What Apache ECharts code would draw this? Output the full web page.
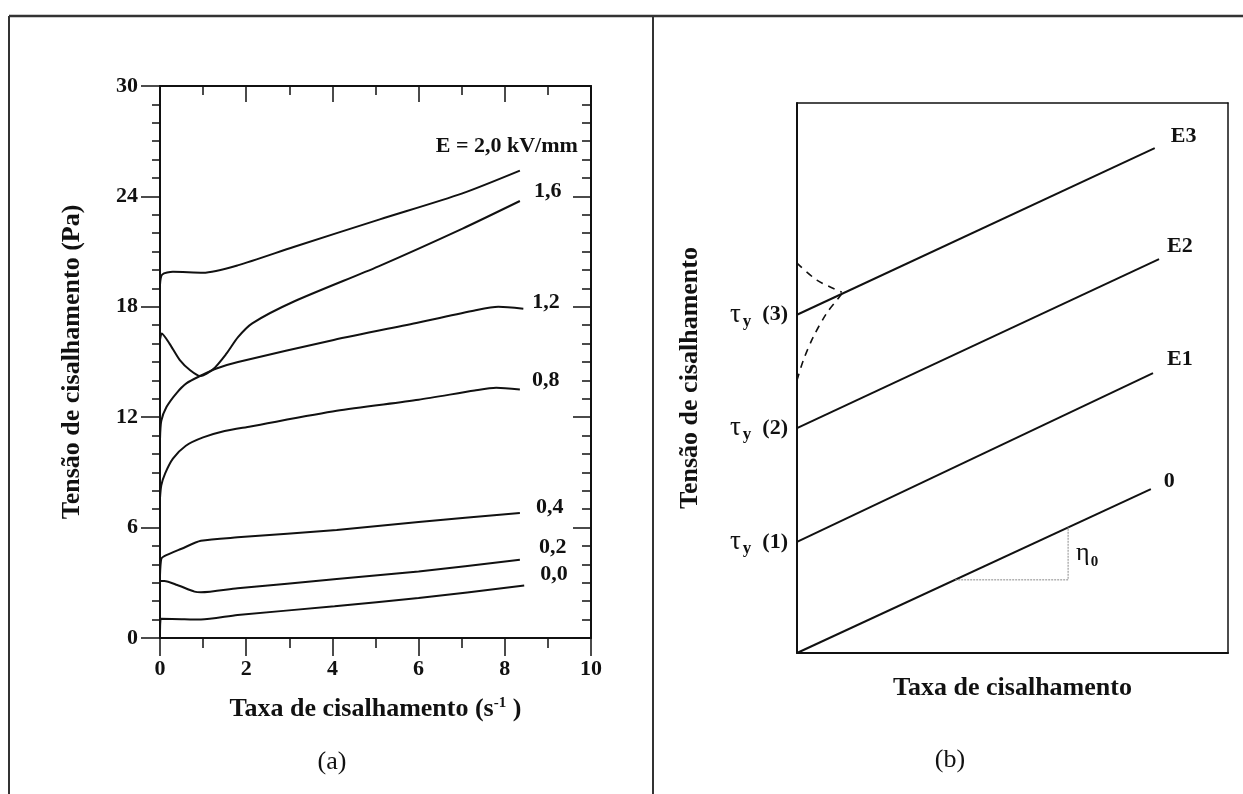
<!DOCTYPE html>
<html>
<head>
<meta charset="utf-8">
<script src="https://cdn.jsdelivr.net/npm/echarts@6/dist/echarts.min.js"></script>
<style>
  html, body { margin: 0; padding: 0; background: #fff; }
  #chart { width: 1243px; height: 794px; }
</style>
</head>
<body>
<div id="chart"></div>
<script>
// ---- Panel (a): shear stress vs shear rate for several electric field strengths ----
const curveE20 = [[0, 19.2], [0.05, 19.75], [0.3, 19.9], [1.0, 19.85], [1.8, 20.25], [3.1, 21.25], [5.1, 22.75], [7.0, 24.15], [8.35, 25.4]];
const curveE16 = [[0, 16.2], [0.04, 16.55], [0.22, 16.0], [0.46, 15.1], [0.7, 14.55], [0.93, 14.24], [1.23, 14.6], [1.54, 15.45], [1.81, 16.35], [2.14, 17.1], [3.12, 18.3], [5.07, 20.2], [7.02, 22.25], [8.35, 23.75]];
const curveE12 = [[0, 10.8], [0.03, 11.8], [0.15, 12.55], [0.38, 13.3], [0.62, 13.85], [0.93, 14.24], [1.31, 14.65], [1.81, 15.0], [4.03, 16.2], [6.0, 17.15], [7.3, 17.8], [7.85, 18.0], [8.43, 17.9]];
const curveE08 = [[0, 7.6], [0.03, 8.3], [0.12, 8.95], [0.3, 9.75], [0.6, 10.45], [1.0, 10.9], [1.5, 11.25], [2.1, 11.5], [4.1, 12.35], [6.0, 12.95], [7.3, 13.45], [7.8, 13.6], [8.35, 13.5]];
const curveE04 = [[0, 3.4], [0.03, 4.3], [0.1, 4.45], [0.5, 4.85], [0.95, 5.28], [1.8, 5.47], [4.1, 5.87], [6.0, 6.3], [8.35, 6.8]];
const curveE02 = [[0, 3.1], [0.1, 3.1], [0.4, 2.88], [0.8, 2.52], [0.95, 2.48], [1.8, 2.7], [4.1, 3.2], [6.0, 3.62], [8.35, 4.25]];
const curveE00 = [[0, 0.2], [0.02, 1.05], [0.5, 1.02], [0.95, 1.0], [1.8, 1.25], [4.05, 1.72], [6.0, 2.17], [8.45, 2.85]];
const fieldLabels = ['E = 2,0 kV/mm', '1,6', '1,2', '0,8', '0,4', '0,2', '0,0'];

// ---- Panel (b): Bingham-type schematic ----
const lineE3 = [[0, 6.15], [8.3, 9.18]];
const lineE2 = [[0, 4.09], [8.4, 7.16]];
const lineE1 = [[0, 2.02], [8.26, 5.09]];
const lineE0 = [[0, 0], [8.21, 2.98]];
const schematicLabels = ['E3', 'E2', 'E1', '0'];
const yieldLabels = ['(3)', '(2)', '(1)'];
const dashUpper = [[0, 7.09], [0.46, 6.78], [1.04, 6.56]];
const dashLower = [[0, 4.96], [0.15, 5.33], [0.38, 5.75], [0.69, 6.18], [0.96, 6.45], [1.04, 6.53]];
const slopeGuide = [[3.67, 1.33], [6.29, 1.33], [6.29, 1.81], [6.29, 2.29]];

const FONT = "'Liberation Serif','Times New Roman',serif";
const INK = '#111';

const chart = echarts.init(document.getElementById('chart'), null, { renderer: 'canvas' });

function curveSeries(data, text, dx, dy, align) {
  return {
    type: 'line', xAxisIndex: 0, yAxisIndex: 0,
    data: data, showSymbol: false, symbol: 'none',
    smooth: 0.25,
    lineStyle: { color: INK, width: 2 },
    silent: true, animation: false,
    endLabel: {
      show: true, formatter: text, distance: 0, offset: [dx, dy],
      align: align || 'left', verticalAlign: 'middle',
      fontFamily: FONT, fontWeight: 'bold', fontSize: 22, color: INK
    }
  };
}

// invisible point markers keep per-point labels visible
const hiddenMark = { symbol: 'circle', symbolSize: 0, showSymbol: true };

function schematicSeries(data, text, dx, dy, tauIndex) {
  const pts = data.map((p, i) => {
    if (i === 0 && tauIndex !== null) {
      return {
        value: p,
        label: {
          show: true, position: 'left', distance: 9,
          formatter: '{t|τ}{s|y}{n|  ' + yieldLabels[tauIndex] + '}',
          rich: {
            t: { fontFamily: FONT, fontSize: 27, color: INK },
            s: { fontFamily: FONT, fontSize: 17, fontWeight: 'bold', color: INK, verticalAlign: 'bottom', padding: [14, 0, 0, 2] },
            n: { fontFamily: FONT, fontSize: 22, fontWeight: 'bold', color: INK }
          }
        }
      };
    }
    return { value: p };
  });
  return Object.assign({
    type: 'line', xAxisIndex: 2, yAxisIndex: 2,
    data: pts,
    lineStyle: { color: INK, width: 2 },
    silent: true, animation: false,
    endLabel: {
      show: true, formatter: text, distance: 0, offset: [dx, dy],
      align: 'left', verticalAlign: 'middle',
      fontFamily: FONT, fontWeight: 'bold', fontSize: 22, color: INK
    }
  }, hiddenMark);
}

const boldTick = { fontFamily: FONT, fontWeight: 'bold', fontSize: 22, color: INK };
const frameLine = { onZero: false, lineStyle: { color: INK, width: 2 } };
const thinFrame = { onZero: false, lineStyle: { color: INK, width: 1.5 } };

const option = {
  backgroundColor: '#fff',
  animation: false,
  grid: [
    { left: 160, top: 86, width: 431, height: 552 },
    { left: 797, top: 103, width: 431, height: 550 }
  ],
  xAxis: [
    {
      gridIndex: 0, type: 'value', position: 'bottom', min: 0, max: 10, interval: 2,
      axisLine: frameLine,
      axisTick: { inside: false, length: 18, lineStyle: { color: INK, width: 1.5 } },
      minorTick: { show: true, splitNumber: 2, length: 10, lineStyle: { color: INK, width: 1.5 } },
      splitLine: { show: false },
      axisLabel: Object.assign({ margin: 20 }, boldTick),
      name: '{b|Taxa de cisalhamento (s}{sup|-1}{b| )}',
      nameLocation: 'middle', nameGap: 58,
      nameTextStyle: {
        rich: {
          b: { fontFamily: FONT, fontWeight: 'bold', fontSize: 26, color: INK },
          sup: { fontFamily: FONT, fontWeight: 'bold', fontSize: 15, color: INK, verticalAlign: 'top', padding: [0, 0, 12, 0] }
        }
      }
    },
    {
      gridIndex: 0, type: 'value', position: 'top', min: 0, max: 10, interval: 2,
      axisLine: frameLine,
      axisTick: { inside: true, length: 16, lineStyle: { color: INK, width: 1.5 } },
      minorTick: { show: true, splitNumber: 2, length: 9, lineStyle: { color: INK, width: 1.5 } },
      splitLine: { show: false }, axisLabel: { show: false }
    },
    {
      gridIndex: 1, type: 'value', position: 'bottom', min: 0, max: 10,
      axisLine: frameLine,
      axisTick: { show: false }, splitLine: { show: false }, axisLabel: { show: false },
      name: 'Taxa de cisalhamento', nameLocation: 'middle', nameGap: 22,
      nameTextStyle: { fontFamily: FONT, fontWeight: 'bold', fontSize: 26, color: INK }
    },
    {
      gridIndex: 1, type: 'value', position: 'top', min: 0, max: 10,
      axisLine: thinFrame,
      axisTick: { show: false }, splitLine: { show: false }, axisLabel: { show: false }
    }
  ],
  yAxis: [
    {
      gridIndex: 0, type: 'value', position: 'left', min: 0, max: 30, interval: 6,
      axisLine: frameLine,
      axisTick: { inside: false, length: 19, lineStyle: { color: INK, width: 1.5 } },
      minorTick: { show: true, splitNumber: 6, length: 8, lineStyle: { color: INK, width: 1.5 } },
      splitLine: { show: false },
      axisLabel: Object.assign({ margin: 22 }, boldTick),
      name: 'Tensão de cisalhamento (Pa)', nameLocation: 'middle', nameGap: 75,
      nameTextStyle: { fontFamily: FONT, fontWeight: 'bold', fontSize: 26, color: INK }
    },
    {
      gridIndex: 0, type: 'value', position: 'right', min: 0, max: 30, interval: 6,
      axisLine: frameLine,
      axisTick: { inside: true, length: 18, lineStyle: { color: INK, width: 1.5 } },
      minorTick: { show: true, splitNumber: 6, length: 9, lineStyle: { color: INK, width: 1.5 } },
      splitLine: { show: false }, axisLabel: { show: false }
    },
    {
      gridIndex: 1, type: 'value', position: 'left', min: 0, max: 10,
      axisLine: frameLine,
      axisTick: { show: false }, splitLine: { show: false }, axisLabel: { show: false },
      name: 'Tensão de cisalhamento', nameLocation: 'middle', nameGap: 94,
      nameTextStyle: { fontFamily: FONT, fontWeight: 'bold', fontSize: 26, color: INK }
    },
    {
      gridIndex: 1, type: 'value', position: 'right', min: 0, max: 10,
      axisLine: thinFrame,
      axisTick: { show: false }, splitLine: { show: false }, axisLabel: { show: false }
    }
  ],
  series: [
    curveSeries(curveE20, fieldLabels[0], 58, -24, 'right'),
    curveSeries(curveE16, fieldLabels[1], 14, -10),
    curveSeries(curveE12, fieldLabels[2], 9, -6),
    curveSeries(curveE08, fieldLabels[3], 12, -9),
    curveSeries(curveE04, fieldLabels[4], 16, -6),
    curveSeries(curveE02, fieldLabels[5], 19, -12),
    curveSeries(curveE00, fieldLabels[6], 16, -11),

    schematicSeries(lineE3, schematicLabels[0], 16, -12, 0),
    schematicSeries(lineE2, schematicLabels[1], 8, -13, 1),
    schematicSeries(lineE1, schematicLabels[2], 14, -14, 2),
    schematicSeries(lineE0, schematicLabels[3], 13, -8, null),
    {
      type: 'line', xAxisIndex: 2, yAxisIndex: 2, data: dashUpper,
      showSymbol: false, symbol: 'none', smooth: 0.3, silent: true,
      lineStyle: { color: INK, width: 1.6, type: [7, 6] }
    },
    {
      type: 'line', xAxisIndex: 2, yAxisIndex: 2, data: dashLower,
      showSymbol: false, symbol: 'none', smooth: 0.3, silent: true,
      lineStyle: { color: INK, width: 1.6, type: [7, 6] }
    },
    Object.assign({
      type: 'line', xAxisIndex: 2, yAxisIndex: 2,
      data: slopeGuide.map((p, i) => i === 2 ? {
        value: p,
        label: {
          show: true, position: 'right', distance: 8,
          formatter: '{e|η}{s|0}',
          rich: {
            e: { fontFamily: FONT, fontSize: 26, color: INK },
            s: { fontFamily: FONT, fontSize: 15, fontWeight: 'bold', color: INK, verticalAlign: 'bottom', padding: [18, 0, 0, 1] }
          }
        }
      } : { value: p }),
      silent: true,
      lineStyle: { color: '#8a8a8a', width: 1, type: [2, 1] }
    }, hiddenMark)
  ],
  graphic: [
    { type: 'line', shape: { x1: 9, y1: 16, x2: 1243, y2: 16 }, style: { stroke: '#333', lineWidth: 2.5 } },
    { type: 'line', shape: { x1: 9, y1: 16, x2: 9, y2: 794 }, style: { stroke: '#333', lineWidth: 2 } },
    { type: 'line', shape: { x1: 653, y1: 16, x2: 653, y2: 794 }, style: { stroke: '#333', lineWidth: 2 } },
    {
      type: 'text', x: 332, y: 762,
      style: { text: '(a)', fontFamily: FONT, fontSize: 26, fill: INK, align: 'center', verticalAlign: 'middle' }
    },
    {
      type: 'text', x: 950, y: 760,
      style: { text: '(b)', fontFamily: FONT, fontSize: 26, fill: INK, align: 'center', verticalAlign: 'middle' }
    }
  ]
};

chart.setOption(option);
</script>
</body>
</html>
